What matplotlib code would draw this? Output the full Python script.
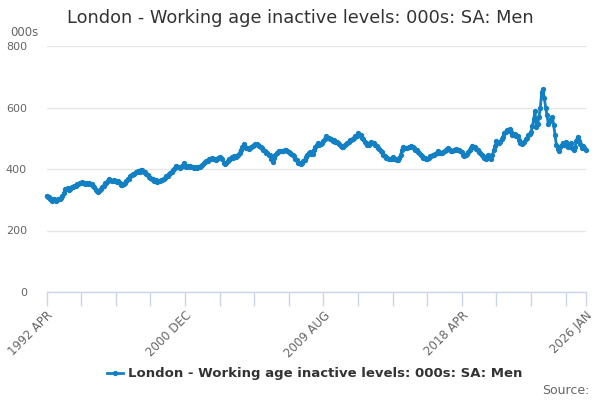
import matplotlib
matplotlib.use("Agg")
import matplotlib.pyplot as plt
import numpy as np

title = "London - Working age inactive levels: 000s: SA: Men"
series_name = "London - Working age inactive levels: 000s: SA: Men"
start_year, start_month = 1992, 4

values = [
    312, 310, 308, 302, 296, 301, 303, 296, 299, 301, 304, 306,
    312, 322, 334, 336, 339, 332, 336, 341, 340, 346, 345, 350,
    350, 356, 354, 358, 355, 351, 354, 352, 356, 351, 350, 344,
    340, 331, 328, 325, 331, 336, 341, 346, 353, 356, 362, 368,
    363, 360, 362, 365, 360, 358, 362, 354, 349, 348, 351, 356,
    361, 367, 369, 377, 380, 384, 383, 389, 390, 394, 391, 397,
    396, 391, 390, 385, 381, 374, 370, 366, 366, 362, 363, 359,
    361, 360, 363, 365, 369, 371, 376, 378, 383, 386, 391, 397,
    401, 410, 406, 408, 404, 407, 409, 418, 410, 408, 411, 408,
    409, 406, 407, 404, 406, 402, 405, 407, 411, 414, 419, 422,
    426, 427, 431, 433, 436, 432, 433, 429, 431, 436, 439, 435,
    432, 421, 415, 421, 425, 433, 434, 438, 437, 441, 439, 443,
    446, 452, 461, 470, 480, 471, 468, 467, 464, 469, 472, 476,
    477, 481, 482, 477, 476, 471, 469, 461, 459, 453, 451, 447,
    446, 434, 424, 436, 444, 451, 454, 459, 460, 458, 459, 461,
    462, 457, 456, 451, 449, 444, 441, 434, 429, 421, 419, 415,
    418, 425, 430, 439, 444, 452, 455, 449, 448, 461, 470, 477,
    483, 479, 481, 484, 491, 497, 506, 501, 501, 496, 496, 492,
    493, 489, 488, 483, 481, 474, 471, 473, 479, 481, 486, 487,
    493, 494, 499, 501, 506, 507, 516, 511, 511, 501, 496, 487,
    483, 479, 479, 483, 489, 484, 483, 477, 476, 469, 466, 459,
    456, 447, 441, 436, 436, 432, 433, 434, 439, 434, 433, 429,
    428, 437, 445, 461, 472, 469, 469, 468, 471, 471, 476, 471,
    469, 463, 461, 454, 451, 445, 443, 437, 436, 432, 433, 435,
    441, 441, 446, 445, 449, 451, 459, 453, 451, 451, 456, 457,
    463, 464, 469, 461, 459, 458, 461, 461, 466, 463, 463, 457,
    456, 447, 443, 444, 449, 454, 463, 467, 476, 471, 471, 464,
    461, 454, 451, 444, 441, 435, 433, 437, 446, 437, 433, 444,
    461, 474, 491, 485, 483, 489, 499, 505, 516, 519, 526, 527,
    531, 519, 511, 510, 513, 507, 506, 494, 486, 481, 486, 489,
    496, 501, 511, 514, 521, 539, 561, 590, 535, 546, 570, 600,
    650, 660, 630, 600, 575, 545, 556, 564, 569, 544, 511, 479,
    466, 459, 471, 477, 486, 479, 489, 474, 471, 477, 483, 469,
    463, 471, 491, 505, 491, 481, 469, 476, 467, 462,
]

month_names = ["JAN", "FEB", "MAR", "APR", "MAY", "JUN", "JUL", "AUG", "SEP", "OCT", "NOV", "DEC"]
categories = []
for i in range(len(values)):
    mm = start_month - 1 + i
    categories.append(f"{start_year + mm // 12} {month_names[mm % 12]}")

y_ticks = [0, 200, 400, 600, 800]

color = "#1380c4"
grid_c = "#e6e6e6"
axis_c = "#ccd6eb"
text_c = "#666666"

fig = plt.figure(figsize=(6, 4), dpi=100)
ax = fig.add_axes([0.0775, 0.27, 0.8985, 0.615])
x = np.arange(len(values))
ax.plot(x, values, color=color, lw=2.0, marker="o", ms=2.8, mec=color, mfc=color,
        clip_on=False, zorder=3)

ax.set_xlim(0, len(values) - 1)
ax.set_ylim(0, 800)
ax.set_yticks(y_ticks)
ax.set_yticklabels([str(v) for v in y_ticks], color=text_c, fontsize=8)
ax.yaxis.grid(True, color=grid_c, lw=1)
ax.set_axisbelow(True)
ax.tick_params(axis="y", length=0, pad=14)
for lbl in ax.get_yticklabels():
    lbl.set_horizontalalignment("right")

n = len(values)
tick_pos = list(range(0, n, 26)) + [n - 1]
ax.set_xticks(tick_pos)
labels = []
for p in tick_pos:
    if p % 104 == 0 or p == n - 1:
        labels.append(categories[p])
    else:
        labels.append("")
ax.set_xticklabels(labels, rotation=45, ha="right", rotation_mode="anchor",
                   color=text_c, fontsize=8.5)
ax.tick_params(axis="x", length=10, color=axis_c, width=1, pad=2)

for s in ["top", "right", "left"]:
    ax.spines[s].set_visible(False)
ax.spines["bottom"].set_color(axis_c)
ax.spines["bottom"].set_linewidth(1)

fig.text(0.5, 0.955, title, ha="center", va="center", fontsize=12.8, color="#333333")
fig.text(0.017, 0.918, "000s", ha="left", va="center", fontsize=8.5, color=text_c)

# legend
lx0, lx1, ly = 0.178, 0.205, 0.067
fig.add_artist(plt.Line2D([lx0, lx1], [ly, ly], color=color, lw=2.0, transform=fig.transFigure))
fig.add_artist(plt.Line2D([(lx0 + lx1) / 2], [ly], color=color, marker="o", ms=2.8,
                          transform=fig.transFigure))
fig.text(0.213, ly, series_name, ha="left", va="center", fontsize=9.5,
         fontweight="bold", color="#333333")
fig.text(0.982, 0.025, "Source:", ha="right", va="center", fontsize=9, color=text_c)

fig.savefig("out.png", dpi=100, facecolor="white")
